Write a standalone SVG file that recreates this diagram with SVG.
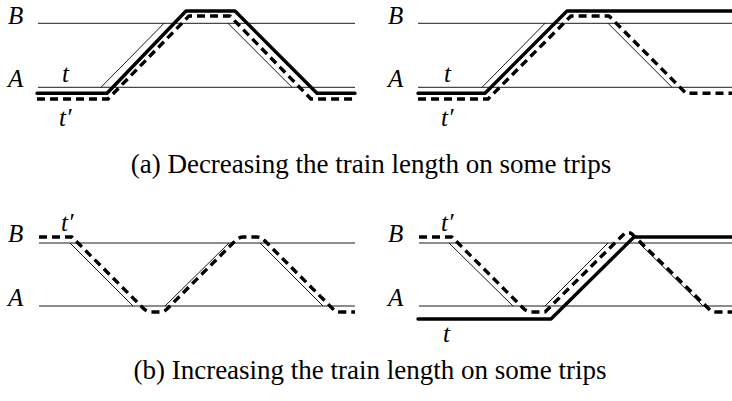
<svg xmlns="http://www.w3.org/2000/svg" width="732" height="401" viewBox="0 0 732 401">
<style>
.bg{fill:#fff}
.thin{fill:none;stroke:#000;stroke-width:0.9}
.solid{fill:none;stroke:#000;stroke-width:3.4;stroke-linejoin:round;stroke-linecap:round}
.dash{fill:none;stroke:#000;stroke-width:3.4;stroke-dasharray:8 5;stroke-linejoin:round;stroke-linecap:butt}
.lbl{font-family:"Liberation Serif","Times New Roman",serif;font-style:italic;font-size:25px;fill:#000}
.cap{font-family:"Liberation Serif","Times New Roman",serif;font-size:27px;fill:#000;text-anchor:middle}
</style>
<rect class="bg" width="732" height="401"/>
<g id="panel-a-left">
  <g id="a1-lines">
    <path class="thin" d="M38,23.3H355M38,87.3H355M101,87.3L164,23.3M228,23.3L292,87.3"/>
    <path class="solid" d="M37,93.3H107L186,11H235L317,93.3H355"/>
    <path class="dash" d="M37,99H108L189,16H230L311,99H355"/>
  </g>
  <text class="lbl" x="8" y="24">B</text>
  <text class="lbl" x="8" y="87">A</text>
  <text class="lbl" x="62" y="82">t</text>
  <text class="lbl" x="59" y="126">t′</text>
</g>
<g id="panel-a-right">
  <g id="a2-lines">
    <path class="thin" d="M418,23.3H732M418,87.3H732M482,87.3L545,23.3M608,23.3L672,87.3"/>
    <path class="solid" d="M418,93.3H485L567,11H732"/>
    <path class="dash" d="M418,99H488L571,16H609L686,93.3H732"/>
  </g>
  <text class="lbl" x="388" y="24">B</text>
  <text class="lbl" x="388" y="87">A</text>
  <text class="lbl" x="444" y="82">t</text>
  <text class="lbl" x="441" y="126">t′</text>
</g>
<g id="panel-b-left">
  <g id="b1-lines">
    <path class="thin" d="M39,243H355M39,306H355M70,243L133,306M165,306L229,243M260,243L323,306"/>
    <path class="dash" d="M39,237H72L143,308Q147,312 151,312H160Q164,312 167,309L235,241Q239,237 243,237H257Q261,237 264,240L334,310Q336,312 340,312H355"/>
  </g>
  <text class="lbl" x="8" y="242">B</text>
  <text class="lbl" x="8" y="306">A</text>
  <text class="lbl" x="61" y="231">t′</text>
</g>
<g id="panel-b-right">
  <g id="b2-lines">
    <path class="thin" d="M419,243H732M419,306H732M449,243L513,306M545,306L608,243M639,243L703,306"/>
    <path class="solid" d="M418,319H551L634,237H732"/>
    <path class="dash" d="M419,237H452L523,308Q527,312 531,312H545L625,233Q629,232 632,234L710,310Q712,312 716,312H732"/>
  </g>
  <text class="lbl" x="388" y="242">B</text>
  <text class="lbl" x="388" y="306">A</text>
  <text class="lbl" x="441" y="231">t′</text>
  <text class="lbl" x="443" y="342">t</text>
</g>
<g id="captions">
  <text class="cap" x="371" y="173">(a)  Decreasing the train length on some trips</text>
  <text class="cap" x="370" y="379">(b)  Increasing the train length on some trips</text>
</g>
</svg>
